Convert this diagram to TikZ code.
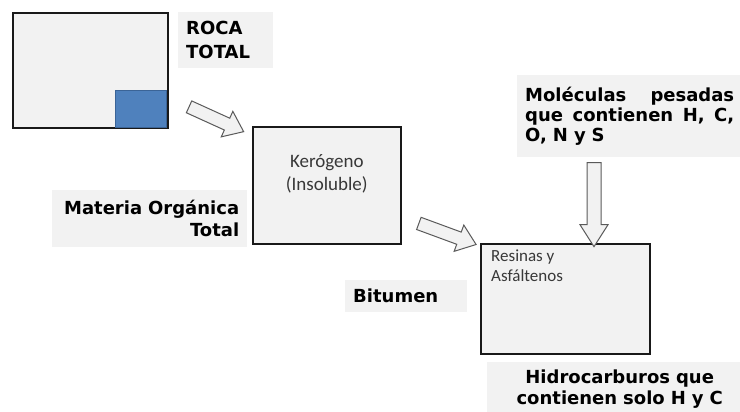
\documentclass[tikz,border=0pt]{standalone}
\usepackage{fontspec}
\setmainfont{DejaVu Sans}
\newfontfamily\calibri{Carlito}
\usetikzlibrary{calc}
\usetikzlibrary{positioning}
\usetikzlibrary{shapes.arrows}
\definecolor{fondo}{HTML}{F2F2F2}
\definecolor{azul}{HTML}{4F81BD}
\definecolor{azulborde}{HTML}{3B6497}
\definecolor{gristexto}{HTML}{383838}
\definecolor{grisflecha}{HTML}{5A5A5A}
\tikzset{
	caja/.style={
		rectangle,
		draw=black!90, line width=1.6pt,
		fill=fondo,
		inner sep=0pt,
		anchor=north west},
	etiqueta/.style={
		rectangle,
		fill=fondo,
		font=\bfseries\fontsize{18}{22}\selectfont,
		inner ysep=0pt, inner xsep=8pt,
		anchor=north west},
	textocaja/.style={
		font=\calibri\fontsize{19}{23}\selectfont,
		text=gristexto,
		inner sep=0pt},
	flecha/.style={
		single arrow,
		draw=grisflecha, line width=1pt,
		fill=fondo,
		inner xsep=0pt, inner ysep=6pt,
		single arrow head extend=7.5pt,
		single arrow tip angle=75,
		sloped},
}
\begin{document}
\begin{tikzpicture}[x=1pt, y=-1pt]
	\useasboundingbox (0,0) rectangle (740,412);
	% cajas
	\node[caja, minimum width=155pt, minimum height=115pt] (roca) at (12,12) {};
	\node[fill=azul, draw=azulborde, minimum width=51pt, minimum height=37pt, inner sep=0pt, anchor=south east] (organica) at ([shift={(-2,-1.5)}]roca.south east) {};
	\node[caja, minimum width=148pt, minimum height=117pt] (kerogeno) at (252,126) {};
	\node[caja, minimum width=169pt, minimum height=110pt] (resinas) at (480,243) {};
	% textos de las cajas
	\node[textocaja, align=center, below=28pt of kerogeno.north] (kerotxt) {Kerógeno\\(Insoluble)};
	\node[textocaja, align=left, font=\calibri\fontsize{17}{20}\selectfont, below right=7pt and 11pt of resinas.north west] (resinastxt) {Resinas y\\Asfáltenos};
	% etiquetas
	\node[etiqueta, minimum width=95pt, minimum height=56pt, text width=79pt, align=left, font=\bfseries\fontsize{18}{24}\selectfont] (rocatxt) at (178,12) {ROCA\\TOTAL};
	\node[etiqueta, minimum width=195pt, minimum height=57pt, text width=179pt, align=right] (materia) at (52,190) {Materia Orgánica\\Total};
	\node[etiqueta, minimum width=122pt, minimum height=32pt, text width=106pt, align=left] (bitumen) at (345,280) {Bitumen};
	\node[etiqueta, minimum width=225pt, minimum height=82pt, text width=209pt, align=left, font=\bfseries\fontsize{18}{20}\selectfont] (moleculas) at (517,75) {Moléculas\hfill pesadas\\que\hfill contienen\hfill H,\hfill C,\\O, N y S};
	\node[etiqueta, minimum width=265pt, minimum height=54pt, text width=249pt, align=center, font=\bfseries\fontsize{18}{21}\selectfont] (hidrocarb) at (487,362) {Hidrocarburos que\\contienen solo H y C};
	% flechas
	\coordinate (f1ini) at (185,105);
	\coordinate (f1fin) at (240,130);
	\coordinate (f2ini) at (415,222);
	\coordinate (f2fin) at (472,243);
	\coordinate (f3ini) at ($(moleculas.south west)+(77,0)$);
	\coordinate (f3fin) at ($(resinas.north west)+(114,-2)$);
	\path (f1ini) -- node[flecha, minimum height=60pt] (flecha1) {} (f1fin);
	\path (f2ini) -- node[flecha, minimum height=61pt] (flecha2) {} (f2fin);
	\path (f3ini) -- node[flecha, minimum height=84pt, inner ysep=6.5pt, single arrow head extend=7pt, single arrow tip angle=65] (flecha3) {} (f3fin);
\end{tikzpicture}
\end{document}
